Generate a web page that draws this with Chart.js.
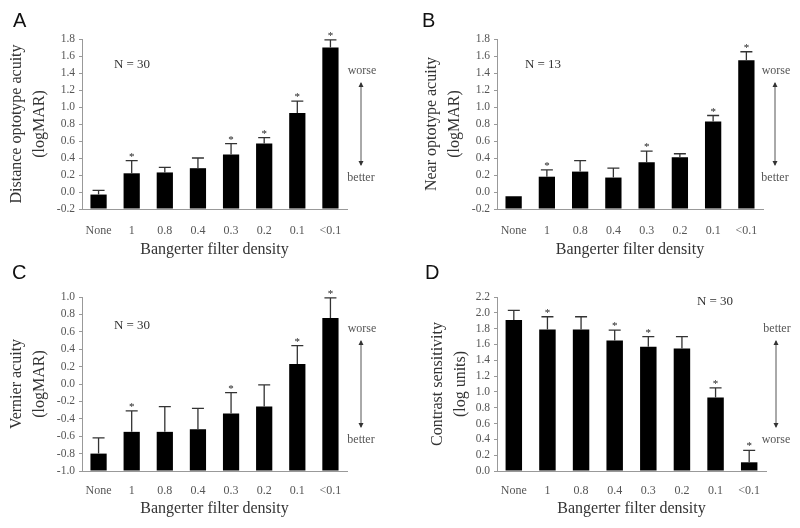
<!DOCTYPE html>
<html>
<head>
<meta charset="utf-8">
<script src="https://cdn.jsdelivr.net/npm/chart.js@4.4.1/dist/chart.umd.min.js"></script>
<style>
    body { margin: 0; background: #fff; }
    #grid { width: 800px; height: 528px; display: grid; grid-template-columns: 400px 400px; grid-template-rows: 264px 264px; }
    canvas { display: block; }
</style>
</head>
<body>
<div id="grid">
    <canvas id="panelA" width="400" height="264"></canvas>
    <canvas id="panelB" width="400" height="264"></canvas>
    <canvas id="panelC" width="400" height="264"></canvas>
    <canvas id="panelD" width="400" height="264"></canvas>
</div>
<script>
// filter densities on the x axis
const categories = ["None", "1", "0.8", "0.4", "0.3", "0.2", "0.1", "<0.1"];

// A: distance optotype acuity (logMAR)
const distanceMean = [-0.03, 0.22, 0.23, 0.28, 0.44, 0.57, 0.93, 1.70];
const distanceErr = [0.05, 0.15, 0.06, 0.12, 0.13, 0.07, 0.14, 0.09];
const distanceStars = [1, 4, 5, 6, 7];

// B: near optotype acuity (logMAR)
const nearMean = [-0.05, 0.18, 0.24, 0.17, 0.35, 0.41, 0.83, 1.55];
const nearErr = [0, 0.08, 0.13, 0.11, 0.13, 0.04, 0.07, 0.10];
const nearStars = [1, 4, 6, 7];

// C: vernier acuity (logMAR)
const vernierMean = [-0.80, -0.55, -0.55, -0.52, -0.34, -0.26, 0.23, 0.76];
const vernierErr = [0.18, 0.24, 0.29, 0.24, 0.24, 0.25, 0.21, 0.23];
const vernierStars = [1, 4, 6, 7];

// D: contrast sensitivity (log units)
const contrastMean = [1.91, 1.79, 1.79, 1.65, 1.57, 1.55, 0.93, 0.11];
const contrastErr = [0.12, 0.16, 0.16, 0.13, 0.13, 0.15, 0.12, 0.15];
const contrastStars = [1, 3, 4, 6, 7];

const serif = "'Liberation Serif', 'Times New Roman', serif";

document.addEventListener("DOMContentLoaded", function () {
    createPanel("panelA", {
        letter: "A", letterX: 13, letterY: 27,
        mean: distanceMean, err: distanceErr, stars: distanceStars,
        yMin: -0.2, yMax: 1.8, step: 0.2,
        yTitle: ["Distance optotype acuity", "(logMAR)"], yTitlePad: 6,
        left: 82, right: 347, top: 39, bottom: 209, tickPad: 15, xTitlePad: 5,
        nText: "N = 30", nX: 132, nY: 65,
        upper: "worse", lower: "better", noteX: 361,
    });
    createPanel("panelB", {
        letter: "B", letterX: 422, letterY: 27,
        mean: nearMean, err: nearErr, stars: nearStars,
        yMin: -0.2, yMax: 1.8, step: 0.2,
        yTitle: ["Near optotype acuity", "(logMAR)"], yTitlePad: 21,
        left: 97, right: 363, top: 39, bottom: 209, tickPad: 15, xTitlePad: 5,
        nText: "N = 13", nX: 143, nY: 65,
        upper: "worse", lower: "better", noteX: 375,
    });
    createPanel("panelC", {
        letter: "C", letterX: 12, letterY: 15,
        mean: vernierMean, err: vernierErr, stars: vernierStars,
        yMin: -1.0, yMax: 1.0, step: 0.2,
        yTitle: ["Vernier acuity", "(logMAR)"], yTitlePad: 6,
        left: 82, right: 347, top: 33, bottom: 207, tickPad: 13, xTitlePad: 10,
        nText: "N = 30", nX: 132, nY: 62,
        upper: "worse", lower: "better", noteX: 361,
    });
    createPanel("panelD", {
        letter: "D", letterX: 425, letterY: 15,
        mean: contrastMean, err: contrastErr, stars: contrastStars,
        yMin: 0, yMax: 2.2, step: 0.2,
        yTitle: ["Contrast sensitivity", "(log units)"], yTitlePad: 27,
        left: 97, right: 366, top: 33, bottom: 207, tickPad: 13, xTitlePad: 10,
        nText: "N = 30", nX: 315, nY: 38,
        upper: "better", lower: "worse", noteX: 376,
    });
});

function notesPlugin(p) {
    return {
        id: "notes",
        afterDatasetsDraw(chart) {
            const ctx = chart.ctx;
            const xs = chart.scales.x;
            const ys = chart.scales.y;
            const area = chart.chartArea;
            const half = 6;
            ctx.save();
            ctx.strokeStyle = "#333";
            ctx.fillStyle = "#222";
            ctx.lineWidth = 1.3;
            ctx.font = "11px " + serif;
            ctx.textAlign = "center";
            ctx.textBaseline = "alphabetic";
            p.mean.forEach(function (m, i) {
                const cx = xs.getPixelForValue(i);
                const y0 = ys.getPixelForValue(m);
                const y1 = ys.getPixelForValue(m + p.err[i]);
                if (p.err[i] > 0) {
                    ctx.beginPath();
                    ctx.moveTo(cx, y0);
                    ctx.lineTo(cx, y1);
                    ctx.moveTo(cx - half, y1);
                    ctx.lineTo(cx + half, y1);
                    ctx.stroke();
                }
                if (p.stars.includes(i)) {
                    ctx.fillText("*", cx, Math.min(y0, y1) - 1);
                }
            });

            // N label
            ctx.font = "13px " + serif;
            ctx.fillStyle = "#333";
            ctx.textBaseline = "middle";
            ctx.fillText(p.nText, p.nX, p.nY);

            // worse / better arrow
            ctx.font = "12px " + serif;
            ctx.fillStyle = "#555";
            ctx.fillText(p.upper, p.noteX + 1, area.top + 32);
            ctx.fillText(p.lower, p.noteX, area.bottom - 31);
            const a1 = area.top + 44;
            const a2 = area.bottom - 44;
            ctx.strokeStyle = "#555";
            ctx.lineWidth = 1;
            ctx.beginPath();
            ctx.moveTo(p.noteX, a1);
            ctx.lineTo(p.noteX, a2);
            ctx.stroke();
            ctx.fillStyle = "#333";
            ctx.beginPath();
            ctx.moveTo(p.noteX, a1 - 1);
            ctx.lineTo(p.noteX - 2.5, a1 + 4);
            ctx.lineTo(p.noteX + 2.5, a1 + 4);
            ctx.closePath();
            ctx.fill();
            ctx.beginPath();
            ctx.moveTo(p.noteX, a2 + 1);
            ctx.lineTo(p.noteX - 2.5, a2 - 4);
            ctx.lineTo(p.noteX + 2.5, a2 - 4);
            ctx.closePath();
            ctx.fill();

            // panel letter
            ctx.font = "20px 'Liberation Sans', Arial, sans-serif";
            ctx.fillStyle = "#111";
            ctx.textAlign = "left";
            ctx.textBaseline = "alphabetic";
            ctx.fillText(p.letter, p.letterX - chart.canvas.offsetLeft, p.letterY);
            ctx.restore();
        },
    };
}

function createPanel(id, p) {
    const ctx = document.getElementById(id);
    const config = {
        type: "bar",
        data: {
            labels: categories,
            datasets: [
                {
                    data: p.mean,
                    base: p.yMin,
                    backgroundColor: "#000",
                    borderWidth: 0,
                    barPercentage: 0.49,
                    categoryPercentage: 1,
                },
            ],
        },
        options: {
            responsive: false,
            animation: false,
            layout: {
                padding: { left: 0, top: p.top, right: 400 - p.right, bottom: 0 },
            },
            plugins: {
                legend: { display: false },
                tooltip: { enabled: false },
            },
            scales: {
                x: {
                    offset: true,
                    afterFit: function (scale) { scale.height = 264 - p.bottom; },
                    grid: { display: false, drawTicks: false },
                    border: { display: true, color: "#999", width: 1 },
                    ticks: {
                        color: "#555",
                        padding: p.tickPad,
                        maxRotation: 0,
                        autoSkip: false,
                        font: { family: serif, size: 12 },
                    },
                    title: {
                        display: true,
                        text: "Bangerter filter density",
                        color: "#333",
                        padding: { top: 0, bottom: p.xTitlePad },
                        font: { family: serif, size: 16 },
                    },
                },
                y: {
                    min: p.yMin,
                    max: p.yMax,
                    afterFit: function (scale) { scale.width = p.left; },
                    grid: { display: true, drawOnChartArea: false, drawTicks: true, tickLength: 3, color: "#999" },
                    border: { display: true, color: "#999", width: 1 },
                    ticks: {
                        stepSize: p.step,
                        autoSkip: false,
                        color: "#555",
                        padding: 4,
                        font: { family: serif, size: 11.5 },
                        callback: function (v) {
                            return Math.abs(v) < 1e-9 ? "0.0" : Number(v).toFixed(1);
                        },
                    },
                    title: {
                        display: true,
                        text: p.yTitle,
                        color: "#333",
                        padding: { top: p.yTitlePad, bottom: 0 },
                        font: { family: serif, size: 16, lineHeight: 1.4 },
                    },
                },
            },
        },
        plugins: [notesPlugin(p)],
    };
    new Chart(ctx, config);
}
</script>
</body>
</html>
